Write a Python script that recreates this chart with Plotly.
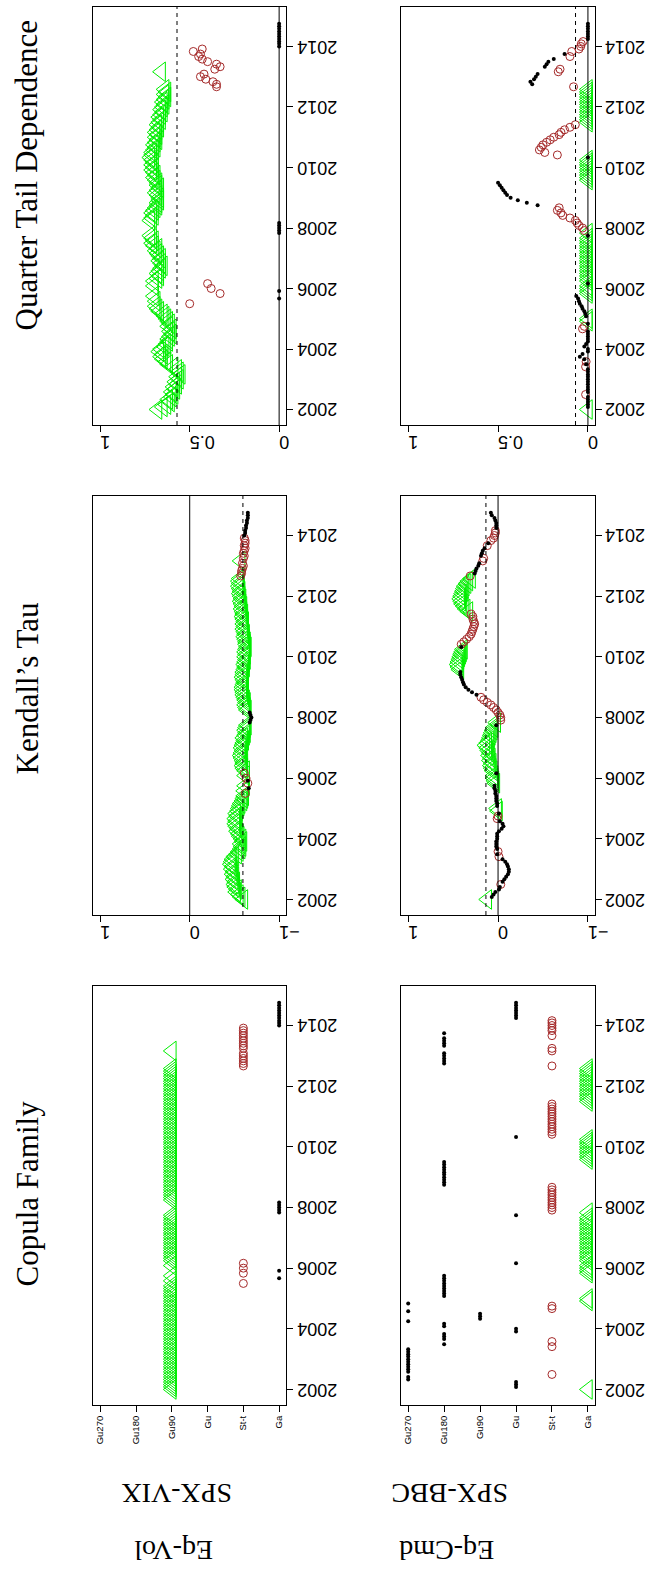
import pandas as pd
import plotly.graph_objects as go

# ---------------- data (monthly rolling estimates) ----------------
dates = pd.date_range("2002-01-01", periods=154, freq="MS")

family_labels = ["Ga", "St-t", "Gu", "Gu90", "Gu180", "Gu270"]   # axis positions 1..6
year_ticks = ["2002", "2004", "2006", "2008", "2010", "2012", "2014"]

# Eq-Vol : SPX-VIX
fam_vix = (["Gu90"] * 42
           + ["St-t", "Gu90", "Ga", "Gu90", "St-t", "Ga", "St-t", "Gu90", "St-t"]
           + ["Gu90"] * 19 + ["Ga"] * 5 + ["Gu90"] * 53
           + ["St-t"] * 6 + ["Gu90"] + ["St-t"] * 9 + ["Ga"] * 10)

tau_vix = [
    -0.60, -0.57, -0.55, -0.52, -0.53, -0.51, -0.50, -0.51, -0.49, -0.50, -0.48, -0.49,
    -0.47, -0.48, -0.46, -0.47, -0.48, -0.50, -0.53, -0.55, -0.57, -0.58, -0.57, -0.59,
    -0.58, -0.56, -0.55, -0.53, -0.54, -0.52, -0.51, -0.52, -0.51, -0.53, -0.52, -0.54,
    -0.55, -0.56, -0.57, -0.59, -0.60, -0.61,
    -0.62, -0.61, -0.66, -0.62, -0.65, -0.65, -0.63, -0.62, -0.61,
    -0.62, -0.60, -0.59, -0.60, -0.59, -0.58, -0.57, -0.58, -0.59, -0.58, -0.59, -0.60,
    -0.61, -0.60, -0.62, -0.63, -0.62, -0.63, -0.64,
    -0.67, -0.68, -0.69, -0.68, -0.67,
    -0.64, -0.63, -0.62, -0.63, -0.62, -0.61, -0.60, -0.60, -0.59,
    -0.59, -0.60, -0.61, -0.60, -0.59, -0.60, -0.60,
    -0.61, -0.62, -0.61, -0.62, -0.63, -0.62,
    -0.63, -0.62, -0.63, -0.64, -0.63, -0.63,
    -0.62, -0.61, -0.62, -0.61, -0.60, -0.61,
    -0.60, -0.61, -0.60, -0.59, -0.60, -0.59,
    -0.58, -0.59, -0.58, -0.57, -0.58, -0.57,
    -0.56, -0.57, -0.56, -0.55, -0.56, -0.55, -0.56,
    -0.57, -0.58, -0.58, -0.59, -0.60, -0.59,
    -0.57,
    -0.60, -0.61, -0.60, -0.61, -0.62, -0.61, -0.62, -0.62, -0.61,
    -0.61, -0.62, -0.62, -0.63, -0.63, -0.64, -0.64, -0.65, -0.65, -0.65,
]

tail_vix = [
    0.68, 0.65, 0.63, 0.61, 0.62, 0.60, 0.59, 0.60, 0.58, 0.59, 0.57, 0.58,
    0.56, 0.57, 0.55, 0.56, 0.57, 0.59, 0.62, 0.63, 0.65, 0.66, 0.65, 0.67,
    0.66, 0.64, 0.63, 0.62, 0.62, 0.61, 0.60, 0.61, 0.60, 0.62, 0.61, 0.62,
    0.63, 0.64, 0.65, 0.67, 0.68, 0.69,
    0.50, 0.69, 0.0, 0.70, 0.33, 0.0, 0.38, 0.70, 0.40,
    0.70, 0.68, 0.67, 0.68, 0.67, 0.66, 0.65, 0.66, 0.67, 0.66, 0.67, 0.68,
    0.69, 0.68, 0.70, 0.71, 0.70, 0.71, 0.72,
    0.0, 0.0, 0.0, 0.0, 0.0,
    0.72, 0.71, 0.70, 0.71, 0.70, 0.69, 0.68, 0.68, 0.67,
    0.67, 0.68, 0.69, 0.68, 0.67, 0.68, 0.68,
    0.69, 0.70, 0.69, 0.70, 0.71, 0.70,
    0.71, 0.70, 0.71, 0.72, 0.71, 0.71,
    0.70, 0.69, 0.70, 0.69, 0.68, 0.69,
    0.68, 0.69, 0.68, 0.67, 0.68, 0.67,
    0.66, 0.67, 0.66, 0.65, 0.66, 0.65,
    0.64, 0.65, 0.64, 0.63, 0.64, 0.63, 0.64,
    0.35, 0.35, 0.37, 0.41, 0.44, 0.42,
    0.66,
    0.36, 0.33, 0.35, 0.40, 0.43, 0.45, 0.44, 0.48, 0.43,
    0.0, 0.0, 0.0, 0.0, 0.0, 0.0, 0.0, 0.0, 0.0, 0.0,
]

# Eq-Cmd : SPX-BBC
fam_bbc = (["Ga"] + ["Gu"] * 3 + ["Gu270"] * 2 + ["St-t"] + ["Gu270"] * 10
           + ["St-t", "Gu180", "St-t"] + ["Gu180"] * 3 + ["Gu"] * 2 + ["Gu180"] * 2
           + ["Gu270"] + ["Gu90"] * 3 + ["Gu270"] + ["St-t"] * 2 + ["Gu270"]
           + ["Ga"] * 2 + ["Gu180"] * 9 + ["Ga"] * 4 + ["Gu"] + ["Ga"] * 18
           + ["Gu"] + ["Ga"] + ["St-t"] * 10 + ["Gu180"] * 10 + ["Ga"] * 9
           + ["Gu"] + ["St-t"] * 13 + ["Ga"] * 14 + ["St-t"] + ["Gu180"] * 5
           + ["St-t"] * 2 + ["Gu180"] * 4 + ["St-t"] + ["Gu180"] + ["St-t"] * 5
           + ["Gu"] * 7)

tau_bbc = [
    0.12,
    0.07, 0.05, 0.03,
    -0.01, -0.02,
    -0.03,
    -0.05, -0.07, -0.09, -0.11, -0.12, -0.12, -0.11, -0.10, -0.08, -0.05,
    -0.01, 0.01, 0.00,
    0.01, 0.02, 0.02,
    0.02, 0.01,
    0.01, 0.01,
    -0.01,
    -0.04, -0.06, -0.05,
    -0.02,
    0.01, 0.00,
    -0.01,
    0.00, 0.01,
    0.01, 0.01, 0.02, 0.02, 0.02, 0.03, 0.03, 0.04, 0.04,
    0.03, 0.04, 0.05, 0.05,
    0.02,
    0.06, 0.07, 0.08, 0.07, 0.09, 0.08, 0.10, 0.09, 0.11, 0.12, 0.14, 0.12,
    0.10, 0.09, 0.08, 0.07, 0.06, 0.05,
    0.02,
    0.02,
    -0.03, -0.03, -0.02, 0.00, 0.02, 0.05, 0.08, 0.12, 0.16, 0.19,
    0.24, 0.29, 0.33, 0.36, 0.38, 0.39, 0.40, 0.41, 0.42, 0.42,
    0.43, 0.44, 0.45, 0.44, 0.43, 0.42, 0.41, 0.40, 0.39,
    0.41,
    0.41, 0.38, 0.35, 0.32, 0.30, 0.29, 0.28, 0.27, 0.26, 0.27, 0.28, 0.28, 0.30,
    0.33, 0.36, 0.38, 0.40, 0.41, 0.42, 0.41, 0.40, 0.39, 0.38, 0.37, 0.35, 0.33, 0.30,
    0.31,
    0.26, 0.25, 0.24, 0.22, 0.21,
    0.17, 0.16,
    0.19, 0.18, 0.17, 0.15,
    0.12,
    0.11,
    0.08, 0.05, 0.04, 0.03, 0.03,
    0.02, 0.02, 0.02, 0.03, 0.04, 0.07, 0.08,
]

tail_bbc = [
    0.0,
    0.0, 0.0, 0.0,
    0.0, 0.0,
    0.013,
    0.0, 0.0, 0.0, 0.0, 0.0, 0.0, 0.0, 0.0, 0.0, 0.0,
    0.013, 0.01, 0.01,
    0.02, 0.045, 0.03,
    0.0, 0.0,
    0.02, 0.01,
    0.0,
    0.0, 0.0, 0.0,
    0.0,
    0.03, 0.02,
    0.0,
    0.0, 0.0,
    0.01, 0.015, 0.02, 0.03, 0.035, 0.045, 0.05, 0.055, 0.065,
    0.0, 0.0, 0.0, 0.0,
    0.0,
    0.0, 0.0, 0.0, 0.0, 0.0, 0.0, 0.0, 0.0, 0.0, 0.0, 0.0, 0.0,
    0.0, 0.0, 0.0, 0.0, 0.0, 0.0,
    0.0,
    0.0,
    0.02, 0.03, 0.05, 0.06, 0.07, 0.10, 0.14, 0.15, 0.17, 0.16,
    0.28, 0.34, 0.39, 0.43, 0.45, 0.46, 0.47, 0.48, 0.49, 0.50,
    0.0, 0.0, 0.0, 0.0, 0.0, 0.0, 0.0, 0.0, 0.0,
    0.0,
    0.17, 0.24, 0.27, 0.26, 0.25, 0.23, 0.21, 0.19, 0.16, 0.15, 0.13, 0.10, 0.07,
    0.0, 0.0, 0.0, 0.0, 0.0, 0.0, 0.0, 0.0, 0.0, 0.0, 0.0, 0.0, 0.0, 0.0,
    0.08,
    0.31, 0.32, 0.30, 0.29, 0.28,
    0.165, 0.155,
    0.24, 0.23, 0.22, 0.19,
    0.10,
    0.13,
    0.09, 0.05, 0.04, 0.037, 0.027,
    0.0, 0.0, 0.0, 0.0, 0.0, 0.0, 0.0,
]

# reference lines (dashed = sample level)
tau_ref = {"vix": -0.595, "bbc": 0.135}
tail_ref = {"vix": 0.571, "bbc": 0.069}

row_names = {"vix": ("Eq-Vol", "SPX-VIX"), "bbc": ("Eq-Cmd", "SPX-BBC")}
col_titles = ["Quarter Tail Dependence", "Kendall\u2019s Tau", "Copula Family"]

# marker group used for each family in each pair
group_of = {
    "vix": {"Gu90": "tri", "St-t": "circ", "Ga": "dot"},
    "bbc": {"Ga": "tri", "St-t": "circ", "Gu": "dot", "Gu90": "dot", "Gu180": "dot", "Gu270": "dot"},
}

# ---------------- styling / layout ----------------
W, H = 664, 1579
GREEN = "#00ee00"
RED = "#a52a2a"
styles = {
    "tri": dict(symbol="triangle-left-open", size=17, color=GREEN, line=dict(width=1, color=GREEN)),
    "circ": dict(symbol="circle-open", size=8, color=RED, line=dict(width=1, color=RED)),
    "dot": dict(symbol="circle", size=4, color="black", line=dict(width=0)),
}
col_px = {"vix": (95, 292), "bbc": (409, 607)}
row_px = {"tail": (7, 425), "tau": (496, 915), "fam": (986, 1405)}
year_label_x = {"vix": 324, "bbc": 638}

data = {
    "vix": {"fam": fam_vix, "tau": tau_vix, "tail": tail_vix},
    "bbc": {"fam": fam_bbc, "tau": tau_bbc, "tail": tail_bbc},
}

fig = go.Figure()
layout = dict(width=W, height=H, margin=dict(l=0, r=0, t=0, b=0),
              paper_bgcolor="white", plot_bgcolor="white", showlegend=False)
shapes = []
annotations = []

tick_dates = [pd.Timestamp(y + "-01-01") for y in year_ticks]
sans = "Liberation Sans, Arial, sans-serif"
serif = "Liberation Serif, Times New Roman, serif"

k = 0
for pair in ["vix", "bbc"]:
    fams = data[pair]["fam"]
    grp = [group_of[pair][f] for f in fams]
    for kind in ["tail", "tau", "fam"]:
        k += 1
        xa = "x" if k == 1 else f"x{k}"
        ya = "y" if k == 1 else f"y{k}"
        if kind == "fam":
            vals = [family_labels.index(f) + 1 for f in fams]
        else:
            vals = data[pair][kind]
        for g in ["tri", "circ", "dot"]:
            xs = [v for v, gg in zip(vals, grp) if gg == g]
            ys = [d for d, gg in zip(dates, grp) if gg == g]
            if not xs:
                continue
            fig.add_trace(go.Scatter(x=xs, y=ys, mode="markers", marker=styles[g],
                                     xaxis=xa, yaxis=ya, hoverinfo="skip"))
        x0, x1 = col_px[pair]
        y0, y1 = row_px[kind]
        xdom = [x0 / W, x1 / W]
        ydom = [1 - y1 / H, 1 - y0 / H]
        xaxis = dict(domain=xdom, anchor=ya,
                     showline=True, mirror=True, linecolor="black", linewidth=1,
                     ticks="outside", ticklen=6, tickcolor="black", tickwidth=1,
                     showgrid=False, zeroline=False)
        if kind == "tail":
            xaxis.update(range=[1.04, -0.04], tickvals=[0, 0.5, 1], ticktext=["0", "0.5", "1"],
                         tickangle=180, tickfont=dict(family=sans, size=18, color="black"))
        elif kind == "tau":
            xaxis.update(range=[1.08, -1.08], tickvals=[-1, 0, 1], ticktext=["\u22121", "0", "1"],
                         tickangle=180, tickfont=dict(family=sans, size=18, color="black"))
        else:
            xaxis.update(range=[6.2, 0.8], tickvals=list(range(1, 7)), ticktext=family_labels,
                         tickangle=-90, tickfont=dict(family=sans, size=9.5, color="black"))
        yaxis = dict(domain=ydom, anchor=xa, type="date", side="right",
                     range=["2001-06-28", "2015-04-22"],
                     tickvals=tick_dates, showticklabels=False,
                     showline=True, mirror=True, linecolor="black", linewidth=1,
                     ticks="outside", ticklen=6, tickcolor="black", tickwidth=1,
                     showgrid=False, zeroline=False)
        layout["xaxis" if k == 1 else f"xaxis{k}"] = xaxis
        layout["yaxis" if k == 1 else f"yaxis{k}"] = yaxis
        # upside-down year labels beside the time axis
        for ytxt, yd in zip(year_ticks, tick_dates):
            annotations.append(dict(text=ytxt, x=year_label_x[pair] / W, xref="paper",
                                    y=yd, yref=ya, showarrow=False, textangle=180,
                                    xanchor="center", yanchor="middle",
                                    font=dict(family=sans, size=18, color="black")))
        yref_dom = ya + " domain"
        if kind == "tail":
            refs = [(0, "solid"), (tail_ref[pair], "4px,4px")]
        elif kind == "tau":
            refs = [(0, "solid"), (tau_ref[pair], "4px,4px")]
        else:
            refs = []
        for v, dash in refs:
            shapes.append(dict(type="line", xref=xa, yref=yref_dom, x0=v, x1=v, y0=0, y1=1,
                               line=dict(color="black", width=1, dash=dash), layer="above"))

# column titles (rotated page: on the left)
for title, yc in zip(col_titles, [175, 688, 1193]):
    annotations.append(dict(text=title, x=28 / W, y=1 - yc / H, xref="paper", yref="paper",
                            showarrow=False, textangle=-90, xanchor="center", yanchor="middle",
                            font=dict(family=serif, size=31, color="black")))
# row labels (upside down at the bottom)
for pair, (xc1, xc2) in zip(["vix", "bbc"], [(177, 180), (456, 459)]):
    top, bottom = row_names[pair]
    annotations.append(dict(text=bottom, x=xc2 / W, y=1 - 1494 / H, xref="paper", yref="paper",
                            showarrow=False, textangle=180, xanchor="center", yanchor="middle",
                            font=dict(family=serif, size=28, color="black")))
    annotations.append(dict(text=top, x=xc1 / W, y=1 - 1551 / H, xref="paper", yref="paper",
                            showarrow=False, textangle=180, xanchor="center", yanchor="middle",
                            font=dict(family=serif, size=28, color="black")))

layout["shapes"] = shapes
layout["annotations"] = annotations
fig.update_layout(**layout)
fig.write_html("out.html")
